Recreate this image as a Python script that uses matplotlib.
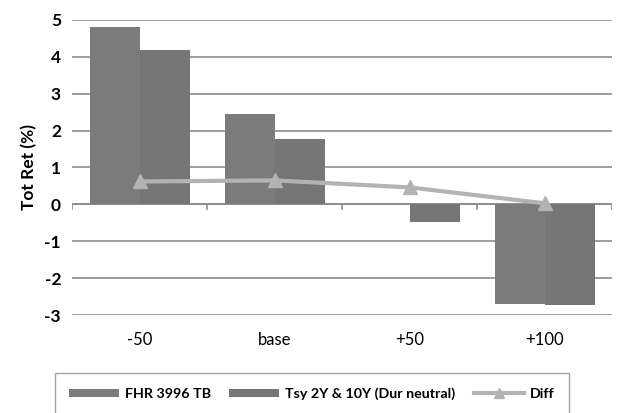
import numpy as np
import matplotlib.pyplot as plt

# scenario data
scenarios = ['-50', 'base', '+50', '+100']
fhr = [4.81, 2.46, 0.0, -2.70]
tsy = [4.19, 1.78, -0.49, -2.73]
diff = [0.62, 0.65, 0.46, 0.03]

plt.rcParams['font.family'] = ['Lato', 'DejaVu Sans']
plt.rcParams['axes.unicode_minus'] = False

fig = plt.figure(figsize=(6.17, 4.13), dpi=100)
ax = fig.add_axes([0.117, 0.237, 0.875, 0.715])

x = np.arange(len(scenarios))
w = 0.37
b1 = ax.bar(x - w / 2, fhr, w, color='#7b7b7b', label='FHR 3996 TB', zorder=2)
b2 = ax.bar(x + w / 2, tsy, w, color='#767676', label='Tsy 2Y & 10Y (Dur neutral)', zorder=2)
ln, = ax.plot(x, diff, color='#b3b3b3', lw=3, marker='^', ms=10, label='Diff', zorder=3)

ax.set_xlim(-0.5, 3.5)
ax.set_ylim(-3, 5)
ax.set_yticks(range(-3, 6))
ax.grid(axis='y', color='#8c8c8c', lw=1.2, zorder=0)
ax.axhline(0, color='#8c8c8c', lw=1.2, zorder=1)
for b in np.arange(-0.5, 4.0, 1.0):
    ax.plot([b, b], [0, -0.12], color='#8c8c8c', lw=1.2, zorder=1)

ax.set_xticks(x)
ax.set_xticklabels(scenarios, fontsize=12)
ax.tick_params(axis='x', length=0, pad=12)
ax.tick_params(axis='y', length=0, labelsize=12.5, pad=8)
for lbl in ax.get_yticklabels():
    lbl.set_fontweight('bold')
for s in ax.spines.values():
    s.set_visible(False)

ax.set_ylabel('Tot Ret (%)', fontsize=12.5, fontweight='bold', labelpad=5)

leg = fig.legend([b1, b2, ln], ['FHR 3996 TB', 'Tsy 2Y & 10Y (Dur neutral)', 'Diff'],
                 loc='lower center', bbox_to_anchor=(0.505, -0.02), ncol=3, fontsize=10.3,
                 frameon=True, fancybox=False, edgecolor='#8c8c8c',
                 handlelength=3.5, handleheight=0.5, handletextpad=0.4,
                 columnspacing=1.3, borderpad=1.0, markerscale=0.7)
for t in leg.get_texts():
    t.set_fontweight('bold')

fig.savefig('out.png', dpi=100)
